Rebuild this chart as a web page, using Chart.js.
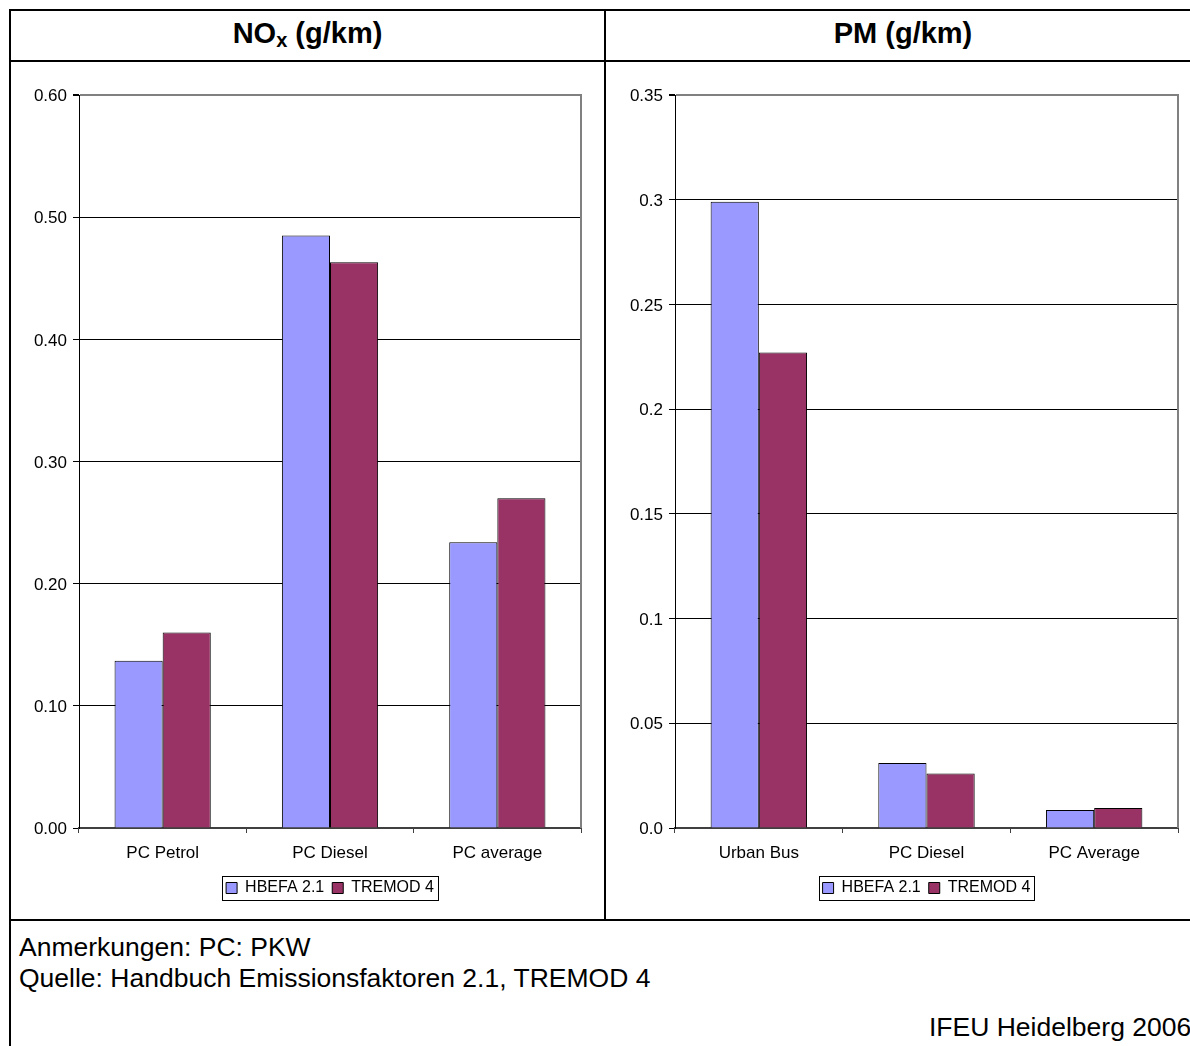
<!DOCTYPE html>
<html>
<head>
<meta charset="utf-8">
<title>NOx und PM Emissionsfaktoren</title>
<script src="https://cdn.jsdelivr.net/npm/chart.js@4.4.0/dist/chart.umd.min.js"></script>
<style>
  html, body { margin: 0; padding: 0; background: #fff; overflow: hidden; width: 1190px; height: 1046px; }
  body { position: relative; font-family: "Liberation Sans", Arial, sans-serif; color: #000; }
  .rule { position: absolute; background: #000; }
  .head { position: absolute; top: 9px; height: 49px; line-height: 49px; text-align: center; font-weight: bold; font-size: 29px; white-space: nowrap; }
  .head sub { font-size: 20px; vertical-align: baseline; position: relative; top: 4px; }
  .cell { position: absolute; }
  .note { position: absolute; font-size: 26.5px; line-height: 31px; white-space: nowrap; }
</style>
</head>
<body>
<!-- table frame -->
<div class="rule" style="left:9px;top:9px;width:1200px;height:2px"></div>
<div class="rule" style="left:9px;top:60px;width:1200px;height:2px"></div>
<div class="rule" style="left:9px;top:919px;width:1200px;height:2px"></div>
<div class="rule" style="left:9px;top:9px;width:2px;height:1040px"></div>
<div class="rule" style="left:604px;top:9px;width:2px;height:912px"></div>

<div class="head" style="left:11px;width:593px">NO<sub>x</sub> (g/km)</div>
<div class="head" style="left:606px;width:594px">PM (g/km)</div>

<div class="cell" style="left:11px;top:62px;width:593px;height:857px"><canvas id="noxChart"></canvas></div>
<div class="cell" style="left:606px;top:62px;width:584px;height:857px"><canvas id="pmChart"></canvas></div>

<div class="note" style="left:19px;top:932px">Anmerkungen: PC: PKW<br>Quelle: Handbuch Emissionsfaktoren 2.1, TREMOD 4</div>
<div class="note" style="left:929px;top:1012px">IFEU Heidelberg 2006</div>

<script>
// Series names shared by both panels
const seriesNames = ['HBEFA 2.1', 'TREMOD 4'];

// NOx emission factors (g/km)
const noxCategories = ['PC Petrol', 'PC Diesel', 'PC average'];
const noxHbefa = [0.137, 0.485, 0.234];
const noxTremod = [0.160, 0.463, 0.270];
const noxTickLabels = ['0.00', '0.10', '0.20', '0.30', '0.40', '0.50', '0.60'];

// PM emission factors (g/km)
const pmCategories = ['Urban Bus', 'PC Diesel', 'PC Average'];
const pmHbefa = [0.299, 0.031, 0.0086];
const pmTremod = [0.227, 0.026, 0.0095];
const pmTickLabels = ['0.0', '0.05', '0.1', '0.15', '0.2', '0.25', '0.3', '0.35'];

const seriesColors = ['#9999FF', '#993366'];

Chart.defaults.font.family = '"Liberation Sans", Arial, sans-serif';
Chart.defaults.color = '#000';

// Gray right edge of the plot area and the framed legend
const framePlugin = {
  id: 'frame',
  beforeDatasetsDraw(chart) {
    const { ctx, chartArea: a } = chart;
    ctx.save();
    ctx.strokeStyle = '#808080';
    ctx.lineWidth = 2;
    ctx.beginPath();
    ctx.moveTo(a.right, a.top - 1);
    ctx.lineTo(a.right, a.bottom);
    ctx.stroke();
    ctx.restore();
  },
  afterDraw(chart) {
    const boxes = chart.legend && chart.legend.legendHitBoxes;
    if (!boxes || !boxes.length) return;
    const first = boxes[0], last = boxes[boxes.length - 1];
    const l = Math.round(first.left - 4);
    const r = Math.round(last.left + last.width + 4);
    const t = Math.round(first.top - 4);
    const b = Math.round(first.top + first.height + 4);
    const ctx = chart.ctx;
    ctx.save();
    ctx.strokeStyle = '#000';
    ctx.lineWidth = 1;
    ctx.strokeRect(l + 0.5, t + 0.5, r - l, b - t);
    ctx.restore();
  }
};

function makeChart(id, categories, hbefa, tremod, maxValue, step, tickLabels, axisWidth, rightPad) {
  return new Chart(document.getElementById(id), {
    type: 'bar',
    data: {
      labels: categories,
      datasets: [
        { label: seriesNames[0], data: hbefa, backgroundColor: seriesColors[0], borderColor: '#000', borderWidth: 1 },
        { label: seriesNames[1], data: tremod, backgroundColor: seriesColors[1], borderColor: '#000', borderWidth: 1 }
      ]
    },
    options: {
      responsive: true,
      maintainAspectRatio: false,
      animation: false,
      datasets: { bar: { categoryPercentage: 0.575, barPercentage: 1.0 } },
      layout: { padding: { top: 33, right: rightPad, bottom: 13, left: 0 } },
      plugins: {
        tooltip: { enabled: false },
        legend: {
          position: 'bottom',
          fullSize: false,
          labels: { boxWidth: 11, boxHeight: 11, padding: 8, font: { size: 16 }, color: '#000' }
        }
      },
      scales: {
        x: {
          ticks: { color: '#000', font: { size: 17 }, padding: 10 },
          grid: { offset: true, drawOnChartArea: false, tickLength: 5, color: '#404040', lineWidth: 1 },
          border: { color: '#404040', width: 2 },
          afterFit: s => { s.height = 44; }
        },
        y: {
          min: 0,
          max: maxValue,
          ticks: {
            stepSize: step,
            color: '#000',
            font: { size: 17 },
            padding: 6,
            labelOffset: 1.5,
            callback: (v, i) => tickLabels[i]
          },
          grid: {
            color: c => (c.tick && c.tick.value >= maxValue - 1e-9) ? '#808080' : '#000',
            lineWidth: c => (c.tick && c.tick.value >= maxValue - 1e-9) ? 2 : 1,
            tickLength: 6,
            tickColor: '#000'
          },
          border: { color: '#000', width: 1 },
          afterFit: s => { s.width = axisWidth; }
        }
      }
    },
    plugins: [framePlugin]
  });
}

makeChart('noxChart', noxCategories, noxHbefa, noxTremod, 0.6, 0.1, noxTickLabels, 68, 23);
makeChart('pmChart', pmCategories, pmHbefa, pmTremod, 0.35, 0.05, pmTickLabels, 69, 12);
</script>
</body>
</html>
